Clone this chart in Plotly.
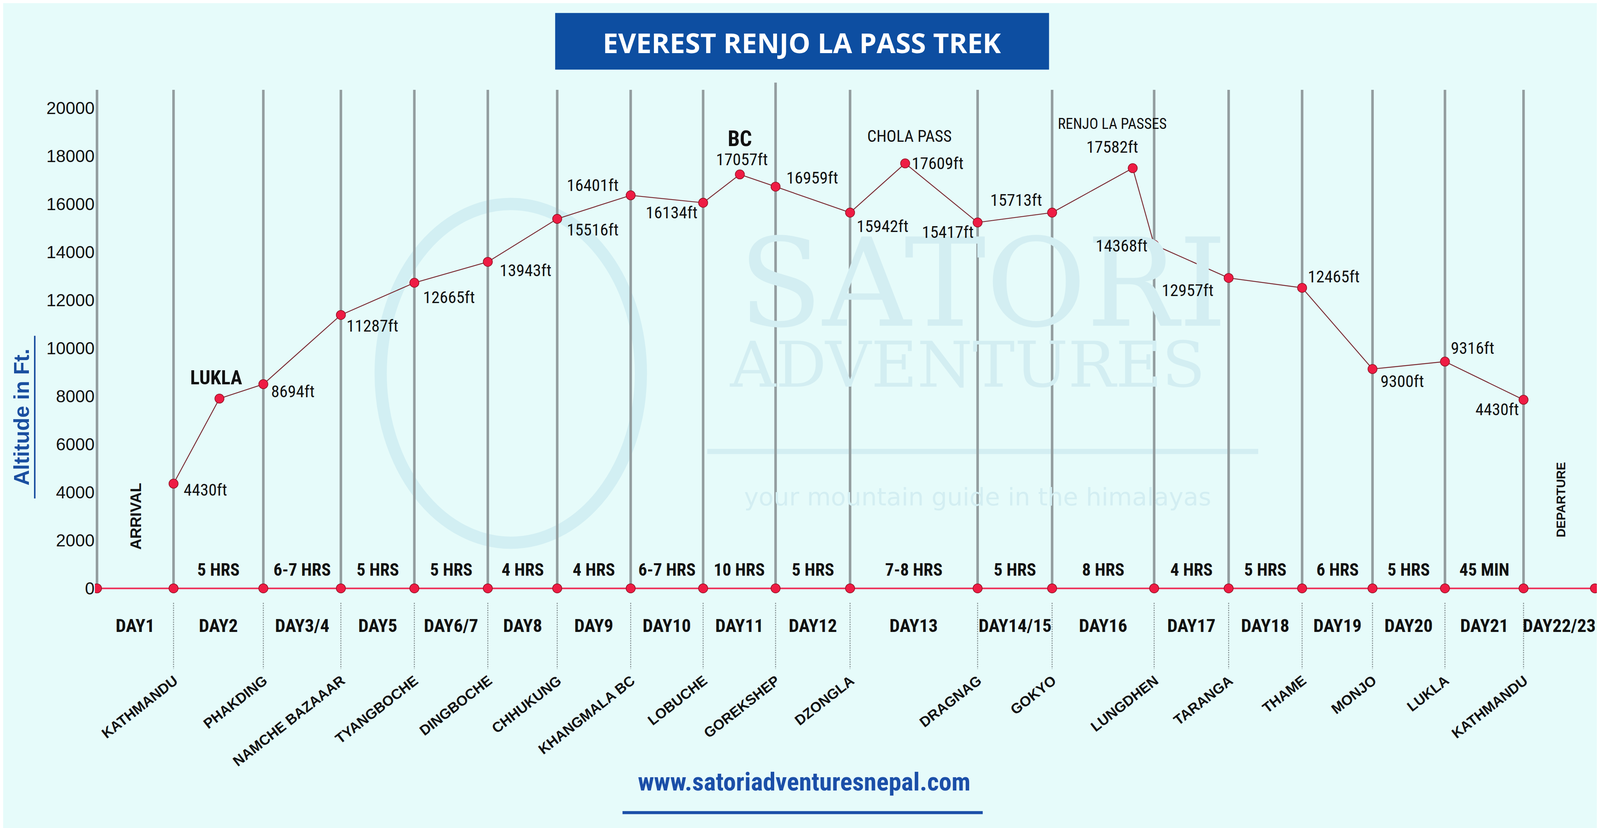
import plotly.graph_objects as go

# ---------------- data ----------------
line_x = [92, 167, 255, 331, 403, 475, 543, 615, 686, 757, 830, 955, 1028,
          1128, 1201, 1273, 1342, 1413, 1490, 1560]

pt_x = [167, 212, 255, 331, 403, 475, 543, 615, 686, 722, 757, 830, 884,
        955, 1028, 1107, 1128, 1201, 1273, 1342, 1413, 1490]
pt_alt = [4360, 7900, 8500, 11380, 12720, 13590, 15380, 16360, 16050, 17230,
          16720, 15640, 17690, 15230, 15640, 17490, 14300, 12920, 12510, 9130,
          9440, 7850]
pt_label = ["4430ft", "", "8694ft", "11287ft", "12665ft", "13943ft", "15516ft",
            "16401ft", "16134ft", "17057ft", "16959ft", "15942ft", "17609ft",
            "15417ft", "15713ft", "", "14368ft", "12957ft", "12465ft",
            "9300ft", "9316ft", "4430ft"]
# label offset from its point (dx right, dy down), in reference pixels
pt_off = [(31, 5), (0, 0), (29, 6), (31, 9), (34, 12), (37, 7), (35, 9),
          (-37, -8), (-31, 8), (2, -12), (36, -7), (32, 11), (32, 0),
          (-29, 8), (-35, -10), (0, 0), (-32, 1), (-40, 10), (31, -9),
          (29, 10), (27, -11), (-26, 8)]

hours = ["5 HRS", "6-7 HRS", "5 HRS", "5 HRS", "4 HRS", "4 HRS", "6-7 HRS",
         "10 HRS", "5 HRS", "7-8 HRS", "5 HRS", "8 HRS", "4 HRS", "5 HRS",
         "6 HRS", "5 HRS", "45 MIN"]
days = ["DAY1", "DAY2", "DAY3/4", "DAY5", "DAY6/7", "DAY8", "DAY9", "DAY10",
        "DAY11", "DAY12", "DAY13", "DAY14/15", "DAY16", "DAY17", "DAY18",
        "DAY19", "DAY20", "DAY21", "DAY22/23"]
places = ["KATHMANDU", "PHAKDING", "NAMCHE BAZAAAR", "TYANGBOCHE", "DINGBOCHE",
          "CHHUKUNG", "KHANGMALA BC", "LOBUCHE", "GOREKSHEP", "DZONGLA",
          "DRAGNAG", "GOKYO", "LUNGDHEN", "TARANGA", "THAME", "MONJO",
          "LUKLA", "KATHMANDU"]
y_ticks = list(range(0, 20001, 2000))

# the page is laid out at ~4096x2120 css px
S = 4096 / 1568
SY = 2120 / 672
BG = "#e6fbfa"
NARROW = "Roboto Condensed, Liberation Sans Narrow, Liberation Sans, Arial"
SANS = "Liberation Sans, Arial"

fig = go.Figure()

# watermark
fig.add_shape(type="circle", xref="x", yref="y", x0=370, x1=625,
              y0=1900, y1=16000, line=dict(color="#d2eff3", width=12 * S),
              layer="below")
for txt, xx, yy, sz, fam in [("SATORI", 960, 12700, 120, "DejaVu Serif"),
                             ("ADVENTURES", 945, 9300, 62, "DejaVu Serif"),
                             ("your mountain guide in the himalayas", 955, 3800, 24,
                              "DejaVu Sans")]:
    fig.add_annotation(x=xx, y=yy, text=txt, showarrow=False,
                       font=dict(family=fam, size=sz * S, color="#d3eef2"))
fig.add_shape(type="line", x0=690, x1=1230, y0=5700, y1=5700,
              line=dict(color="#d3eef2", width=5 * S), layer="below")

# vertical grid lines
for i, lx in enumerate(line_x[:-1]):
    top = 21050 if lx == 757 else 20750
    fig.add_shape(type="line", x0=lx, x1=lx, y0=0, y1=top,
                  line=dict(color="#939d9f", width=2.5 * S), layer="below")
    if i > 0:
        fig.add_shape(type="line", x0=lx, x1=lx, y0=-600, y1=-3350,
                      line=dict(color="#7f8a8c", width=1 * S, dash="dot"),
                      layer="below")

# baseline
fig.add_trace(go.Scatter(x=line_x, y=[0] * len(line_x), mode="lines+markers",
                         line=dict(color="#ee2b55", width=1.6 * S),
                         marker=dict(color="#ee1c44", size=9 * S,
                                     line=dict(color="#8a1020", width=0.6 * S)),
                         hoverinfo="skip"))

# profile
fig.add_trace(go.Scatter(x=pt_x, y=pt_alt, mode="lines+markers",
                         line=dict(color="#7a2a32", width=0.9 * S),
                         marker=dict(color="#ee1c44", size=9 * S,
                                     line=dict(color="#8a1020", width=0.6 * S)),
                         hoverinfo="skip"))
for x, a, lab, (dx, dy) in zip(pt_x, pt_alt, pt_label, pt_off):
    if lab:
        fig.add_annotation(x=x, y=a, text=lab, showarrow=False,
                           xshift=dx * S, yshift=-dy * SY,
                           font=dict(family=NARROW, size=16.5 * S, color="#111"))

# place titles on peaks
for txt, xi, dx, dy, sz in [("<b>LUKLA</b>", 1, -3, -17, 19),
                            ("<b>BC</b>", 9, 0, -29, 21),
                            ("CHOLA PASS", 12, 4, -22, 16),
                            ("RENJO LA PASSES", 15, -20, -36, 14.5),
                            ("17582ft", 15, -20, -17, 16.5)]:
    fig.add_annotation(x=pt_x[xi], y=pt_alt[xi], text=txt, showarrow=False,
                       xshift=dx * S, yshift=-dy * SY,
                       font=dict(family=NARROW, size=sz * S, color="#111"))

# hours
for i, h in enumerate(hours):
    fig.add_annotation(x=(line_x[i + 1] + line_x[i + 2]) / 2, y=780,
                       text="<b>" + h + "</b>", showarrow=False,
                       font=dict(family=NARROW, size=17 * S, color="#111"))
# days
for i, d in enumerate(days):
    fig.add_annotation(x=(line_x[i] + line_x[i + 1]) / 2, y=-1540,
                       text="<b>" + d + "</b>", showarrow=False,
                       font=dict(family=NARROW, size=18 * S, color="#111"))
# places
for i, p in enumerate(places):
    fig.add_annotation(x=line_x[i + 1] + 8, y=-3450, text="<b>" + p + "</b>",
                       showarrow=False, textangle=-38, xanchor="right",
                       yanchor="top",
                       font=dict(family=SANS, size=14 * S, color="#111"))

fig.add_annotation(x=130, y=3000, text="<b>ARRIVAL</b>", textangle=-90,
                   showarrow=False, font=dict(family=SANS, size=15 * S, color="#111"))
fig.add_annotation(x=1527, y=3700, text="<b>DEPARTURE</b>", textangle=-90,
                   showarrow=False, font=dict(family=SANS, size=12 * S, color="#111"))


def paper_text(x, y, text, **kw):
    fig.add_annotation(xref="paper", yref="paper", x=x, y=y, text=text,
                       showarrow=False, xanchor="center", yanchor="middle", **kw)


# title
fig.add_shape(type="rect", xref="paper", yref="paper", x0=541 / 1568,
              x1=1025 / 1568, y0=1 - 54 / 672, y1=1 - 8 / 672,
              fillcolor="#0d4ea1", line=dict(width=0))
paper_text(783 / 1568, 1 - 32 / 672, "<b>EVEREST RENJO LA PASS TREK</b>",
           font=dict(family="Open Sans", size=27 * S, color="white"))

# y-axis title
paper_text(18 / 1568, 1 - 336 / 672, "<b>Altitude in Ft.</b>", textangle=-90,
           font=dict(family=SANS, size=21 * S, color="#1a4fa0"))
fig.add_shape(type="line", xref="paper", yref="paper", x0=31 / 1568,
              x1=31 / 1568, y0=1 - 402 / 672, y1=1 - 270 / 672,
              line=dict(color="#1a4fa0", width=1.5 * S))

# website
paper_text(785 / 1568, 1 - 632 / 672, "<b>www.satoriadventuresnepal.com</b>",
           font=dict(family=NARROW, size=25 * S, color="#1b4fa8"))
fig.add_shape(type="line", xref="paper", yref="paper", x0=607 / 1568,
              x1=960 / 1568, y0=1 - 657 / 672, y1=1 - 657 / 672,
              line=dict(color="#1b4fa8", width=3 * S))

fig.update_layout(
    autosize=True, paper_bgcolor=BG, plot_bgcolor=BG,
    margin=dict(l=0, r=0, t=0, b=0), showlegend=False,
    xaxis=dict(range=[90, 1568], domain=[90 / 1568, 1], visible=False,
               fixedrange=True),
    yaxis=dict(range=[-10103, 24359], tickvals=y_ticks,
               ticktext=[str(v) for v in y_ticks], showgrid=False,
               zeroline=False, showline=False, ticks="",
               tickfont=dict(family=SANS, size=17 * S, color="#111")),
)

fig.write_html("out.html", default_width="100vw", default_height="100vh")
